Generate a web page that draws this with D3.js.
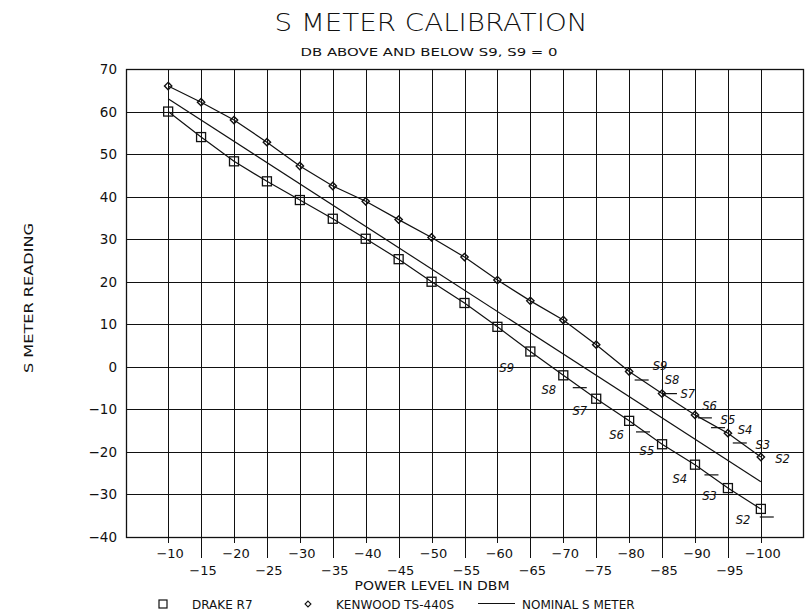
<!DOCTYPE html>
<html>
<head>
<meta charset="utf-8">
<script src="https://cdn.jsdelivr.net/npm/d3@7"></script>
<style>
  body { margin: 0; background: #fff; }
  svg { display: block; }
  text { fill: #111; font-family: "DejaVu Sans", sans-serif; }
</style>
</head>
<body>
<svg id="chart" width="810" height="616"></svg>
<script>
// ---- data ----
const dbm = [-10, -15, -20, -25, -30, -35, -40, -45, -50, -55, -60, -65, -70, -75, -80, -85, -90, -95, -100];
const drakeR7 = [60, 54, 48.3, 43.6, 39.2, 34.8, 30.1, 25.3, 20, 15, 9.4, 3.6, -2, -7.5, -12.7, -18.2, -23, -28.5, -33.4];
const kenwood = [66, 62.2, 58, 52.8, 47.2, 42.5, 38.9, 34.6, 30.4, 25.8, 20.4, 15.5, 11, 5.2, -1.1, -6.3, -11.3, -15.6, -21.2];
const nominalDbm = [-10, -100];
const nominalVal = [63, -27];
const yTicks = [70, 60, 50, 40, 30, 20, 10, 0, -10, -20, -30, -40];
const xTicks = dbm;

// S unit notes written on the chart: [label, dBm, dB]
const drakeNotes = [['S9', -61.4, 0], ['S8', -67.8, -5.2], ['S7', -72.5, -10.1], ['S6', -78.1, -15.7],
  ['S5', -82.7, -19.5], ['S4', -87.7, -26.1], ['S3', -92.2, -30.1], ['S2', -97.3, -35.7]];
const drakeDashes = [[-72.5, -4.9], [-82.1, -15.3], [-92.5, -25.4], [-100.9, -35.3]];
const kenwoodNotes = [['S9', -84.7, 0.5], ['S8', -86.5, -2.8], ['S7', -88.9, -6.1], ['S6', -92.2, -8.9],
  ['S5', -95.0, -12.3], ['S4', -97.6, -14.6], ['S3', -100.3, -18.1], ['S2', -103.3, -21.4]];
const kenwoodDashes = [[-81.9, -3.1], [-86.2, -6.3], [-91.5, -12.0], [-93.5, -14.3], [-96.8, -17.9]];

// ---- layout ----
const plotL = 126, plotR = 803, plotT = 69, plotB = 537;
const svg = d3.select('#chart');

const x = d3.scaleLinear().domain([-3.6, -106.4]).range([plotL, plotR]);
const y = d3.scaleLinear().domain([-40, 70]).range([plotB, plotT]);

// titles
svg.append('text')
  .attr('x', 431).attr('y', 31)
  .attr('text-anchor', 'middle')
  .attr('font-size', 25)
  .attr('font-family', 'Roboto, sans-serif')
  .attr('font-weight', 300)
  .attr('textLength', 313).attr('lengthAdjust', 'spacingAndGlyphs')
  .text('S METER CALIBRATION');

svg.append('text')
  .attr('x', 429).attr('y', 56)
  .attr('text-anchor', 'middle')
  .attr('font-size', 11)
  .attr('textLength', 257).attr('lengthAdjust', 'spacingAndGlyphs')
  .text('DB ABOVE AND BELOW S9, S9 = 0');

// grid
const grid = svg.append('g').attr('stroke', '#111').attr('stroke-width', 1);
grid.selectAll('.hgrid').data(yTicks)
  .enter().append('line')
  .attr('x1', plotL).attr('x2', plotR)
  .attr('y1', d => Math.round(y(d)) + 0.5).attr('y2', d => Math.round(y(d)) + 0.5);

grid.selectAll('.vgrid').data(xTicks)
  .enter().append('line')
  .attr('x1', d => Math.round(x(d)) + 0.5).attr('x2', d => Math.round(x(d)) + 0.5)
  .attr('y1', plotT)
  .attr('y2', (d, i) => plotB + (i % 2 ? 21 : 6));

svg.append('rect')
  .attr('x', plotL + 0.5).attr('y', plotT + 0.5)
  .attr('width', plotR - plotL).attr('height', plotB - plotT)
  .attr('fill', 'none').attr('stroke', '#111').attr('stroke-width', 1.3);

// y tick labels
svg.selectAll('.ylab').data(yTicks)
  .enter().append('text')
  .attr('x', 117).attr('y', d => y(d) + 5)
  .attr('text-anchor', 'end')
  .attr('font-size', 13.5)
  .text(d => d < 0 ? '\u2212' + Math.abs(d) : d);

// x tick labels, two staggered rows
svg.selectAll('.xlab').data(xTicks)
  .enter().append('text')
  .attr('x', d => x(d) + 2)
  .attr('y', (d, i) => i % 2 ? 575 : 558)
  .attr('text-anchor', 'middle')
  .attr('font-size', 13)
  .text(d => '\u2212' + Math.abs(d));

svg.append('text')
  .attr('x', 432).attr('y', 590)
  .attr('text-anchor', 'middle').attr('font-size', 12)
  .attr('textLength', 155).attr('lengthAdjust', 'spacingAndGlyphs')
  .text('POWER LEVEL IN DBM');

svg.append('text')
  .attr('transform', 'translate(33,298) rotate(-90)')
  .attr('text-anchor', 'middle').attr('font-size', 12)
  .attr('textLength', 150).attr('lengthAdjust', 'spacingAndGlyphs')
  .text('S METER READING');

// series
const line = d3.line().x(d => x(d[0])).y(d => y(d[1]));
const drakePts = dbm.map((d, i) => [d, drakeR7[i]]);
const kenPts = dbm.map((d, i) => [d, kenwood[i]]);
const nomPts = nominalDbm.map((d, i) => [d, nominalVal[i]]);

[drakePts, kenPts, nomPts].forEach(pts => {
  svg.append('path').attr('d', line(pts))
    .attr('fill', 'none').attr('stroke', '#111').attr('stroke-width', 1.2);
});

svg.selectAll('.sq').data(drakePts)
  .enter().append('rect')
  .attr('x', d => x(d[0]) - 4.5).attr('y', d => y(d[1]) - 4.5)
  .attr('width', 9).attr('height', 9)
  .attr('fill', 'none').attr('stroke', '#111').attr('stroke-width', 1.3);

const diamond = d3.symbol().type(d3.symbolDiamond2).size(34);
svg.selectAll('.dia').data(kenPts)
  .enter().append('path')
  .attr('d', diamond)
  .attr('transform', d => `translate(${x(d[0])},${y(d[1])})`)
  .attr('fill', 'none').attr('stroke', '#111').attr('stroke-width', 1.4);

// S unit notes
const notes = svg.append('g');
notes.selectAll('.note').data(drakeNotes.concat(kenwoodNotes))
  .enter().append('text')
  .attr('x', d => x(d[1])).attr('y', d => y(d[2]) + 5)
  .attr('text-anchor', 'middle')
  .attr('font-size', 11.5)
  .attr('font-style', 'italic')
  .text(d => d[0]);

notes.selectAll('.dash').data(drakeDashes.concat(kenwoodDashes))
  .enter().append('line')
  .attr('x1', d => x(d[0]) - 7).attr('x2', d => x(d[0]) + 7)
  .attr('y1', d => y(d[1])).attr('y2', d => y(d[1]))
  .attr('stroke', '#111').attr('stroke-width', 1.2);

// legend
const lg = svg.append('g').attr('font-size', 12);
lg.append('rect').attr('x', 159).attr('y', 600).attr('width', 8).attr('height', 8)
  .attr('fill', 'none').attr('stroke', '#111').attr('stroke-width', 1.2);
lg.append('text').attr('x', 192).attr('y', 609).text('DRAKE R7');
lg.append('path').attr('d', d3.symbol().type(d3.symbolDiamond2).size(22))
  .attr('transform', 'translate(308,604)')
  .attr('fill', 'none').attr('stroke', '#111').attr('stroke-width', 1.1);
lg.append('text').attr('x', 336).attr('y', 609).text('KENWOOD TS-440S');
lg.append('line').attr('x1', 478).attr('x2', 515).attr('y1', 603.5).attr('y2', 603.5)
  .attr('stroke', '#111').attr('stroke-width', 1);
lg.append('text').attr('x', 522).attr('y', 609).text('NOMINAL S METER');
</script>
</body>
</html>
